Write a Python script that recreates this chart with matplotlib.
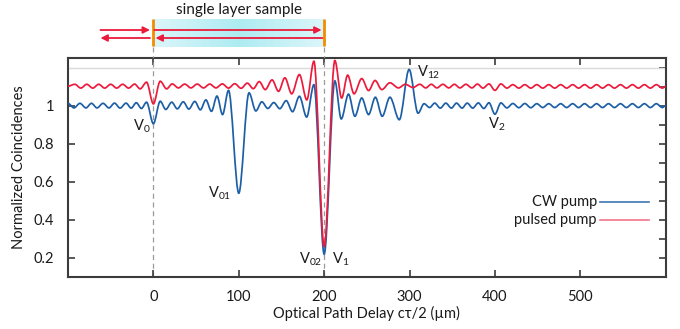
import numpy as np
import matplotlib.pyplot as plt
from matplotlib.path import Path
from matplotlib.patches import PathPatch

plt.rcParams['font.family'] = ['Lato', 'DejaVu Sans']
plt.rcParams['mathtext.fontset'] = 'custom'
plt.rcParams['mathtext.rm'] = 'Lato'
plt.rcParams['mathtext.it'] = 'Lato'

# extrema of the CW pump trace (delay in um, normalized coincidences)
cw_x = [-100, -93, -86, -79, -72.5, -66, -59, -52, -45.5, -39, -32, -26, -20, -14, -8, 0,
        8, 14.5, 21.5, 28, 35, 41.5, 48.5, 55, 61.5, 68, 74.5, 81, 88, 100,
        112, 120, 127, 134, 141, 148, 155.5, 163, 171, 179.5, 188, 200,
        212.5, 220, 228.5, 236, 244, 252, 260, 268, 277, 288, 299.5,
        310, 317, 323.5, 329.5, 336, 342.5, 349, 355, 361.5, 367.5, 374, 380.5, 387, 393, 400,
        407, 414, 421, 428, 435, 442, 449, 456, 463, 470, 477, 484, 491, 498,
        505, 512, 519, 526, 533, 540, 547, 554, 561, 568, 575, 582, 589, 596, 600]
cw_y = [1.012, 0.988, 1.012, 0.988, 1.012, 0.988, 1.012, 0.988, 1.013, 0.987, 1.013, 0.987, 1.015, 0.985, 1.018, 0.905,
        1.023, 0.980, 1.018, 0.983, 1.020, 0.982, 1.022, 0.978, 1.030, 0.970, 1.050, 0.953, 1.080, 0.540,
        1.067, 0.972, 1.020, 0.985, 1.016, 0.984, 1.026, 0.968, 1.049, 0.940, 1.110, 0.220,
        1.130, 0.930, 1.060, 0.944, 1.040, 0.953, 1.044, 0.944, 1.044, 0.926, 1.190,
        0.960, 1.010, 0.990, 1.013, 0.987, 1.013, 0.987, 1.013, 0.987, 1.013, 0.987, 1.014, 0.985, 1.015, 0.955,
        1.014, 0.988, 1.011, 0.989, 1.011, 0.989, 1.010, 0.990, 1.010, 0.990, 1.010, 0.990, 1.010, 0.990,
        1.010, 0.990, 1.010, 0.990, 1.010, 0.990, 1.010, 0.990, 1.010, 0.990, 1.010, 0.990, 1.010, 0.990, 1.000]

# extrema of the pulsed pump trace
pulsed_x = [-100, -92, -85, -78, -71, -64, -57, -50, -43, -36, -29, -22, -15.5, -8, 0,
            8, 15.5, 22, 29.3, 36.7, 44, 51.3, 58.7, 66, 73.3, 80.7, 88, 95.3, 102.7,
            110, 117, 124, 131, 139, 146.6, 154, 162, 171, 179.7, 188, 200,
            212.5, 220.5, 227.5, 235, 244, 252, 259.6, 267.5, 277, 287, 295, 304,
            312, 319, 325.5, 332, 339, 346, 352.5, 359, 366, 373, 379.5, 386, 393, 400,
            407, 414, 421, 428, 435, 442, 449, 456, 463, 470, 477, 484, 491, 498,
            505, 512, 519, 526, 533, 540, 547, 554, 561, 568, 575, 582, 589, 596, 600]
pulsed_y = [1.102, 1.112, 1.092, 1.112, 1.092, 1.112, 1.092, 1.112, 1.092, 1.112, 1.092, 1.113, 1.088, 1.123, 1.009,
            1.128, 1.088, 1.114, 1.093, 1.113, 1.093, 1.113, 1.093, 1.113, 1.093, 1.114, 1.092, 1.115, 1.091,
            1.118, 1.089, 1.126, 1.084, 1.135, 1.075, 1.146, 1.062, 1.163, 1.030, 1.233, 0.260,
            1.237, 1.040, 1.160, 1.062, 1.142, 1.079, 1.132, 1.084, 1.120, 1.093, 1.112, 1.095,
            1.112, 1.093, 1.112, 1.093, 1.112, 1.093, 1.112, 1.093, 1.112, 1.093, 1.113, 1.092, 1.114, 1.080,
            1.114, 1.092, 1.110, 1.092, 1.110, 1.092, 1.110, 1.092, 1.110, 1.092, 1.110, 1.092, 1.110, 1.092,
            1.110, 1.092, 1.110, 1.092, 1.110, 1.092, 1.110, 1.092, 1.110, 1.092, 1.110, 1.092, 1.110, 1.092, 1.101]

series_labels = ['CW pump', 'pulsed pump']

# dip labels: (text, x, y, alignment)
dip_labels = [(r'V$_{0}$', -3.5, 0.89, 'right'),
              (r'V$_{01}$', 91, 0.542, 'right'),
              (r'V$_{02}$', 197.5, 0.195, 'right'),
              (r'V$_{1}$', 209, 0.195, 'left'),
              (r'V$_{12}$', 309, 1.174, 'left'),
              (r'V$_{2}$', 402, 0.90, 'center')]

sample_edges = [0, 200]
x_ticks = [0, 100, 200, 300, 400, 500]
y_ticks = [0.2, 0.4, 0.6, 0.8, 1.0]
y_ticklabels = ['0.2', '0.4', '0.6', '0.8', '1']
y_right_ticks = [0.2, 0.3, 0.4, 0.5, 0.6, 0.7, 0.8, 0.9, 1.0, 1.1, 1.2]

BLUE = '#1d5fa6'
RED = '#ec1b3c'
AXC = '#3c3c3c'
TXT = '#1a1a1a'


def smooth_path(xs, ys):
    # cubic segments with flat tangents at every extremum
    verts = [(xs[0], ys[0])]
    codes = [Path.MOVETO]
    for i in range(1, len(xs)):
        dx = xs[i] - xs[i - 1]
        verts += [(xs[i - 1] + dx / 3, ys[i - 1]), (xs[i] - dx / 3, ys[i]), (xs[i], ys[i])]
        codes += [Path.CURVE4] * 3
    return Path(verts, codes)


fig = plt.figure(figsize=(6.8, 3.29), dpi=100)
ax = fig.add_axes([0.1, 0.158, 0.879, 0.6657])
ax.set_xlim(-100, 600)
ax.set_ylim(0.1, 1.25)

ax.axhline(1.2, color='#dadada', lw=1.0, zorder=1)
for xe in sample_edges:
    ax.axvline(xe, color='#9a9a9a', lw=0.9, ls=(0, (4, 3)), zorder=1)

ax.add_patch(PathPatch(smooth_path(cw_x, cw_y), fill=False, edgecolor=BLUE, lw=1.25, zorder=3))
ax.add_patch(PathPatch(smooth_path(pulsed_x, pulsed_y), fill=False, edgecolor=RED, lw=1.25, zorder=4))

for txt, x, y, ha in dip_labels:
    ax.text(x, y, txt, ha=ha, va='center', fontsize=10.5, color=TXT, zorder=5)

# legend drawn by hand: text right aligned, sample line after it
for i, (lab, col) in enumerate(zip(series_labels, [BLUE, RED])):
    yy = 0.344 - i * 0.084
    ax.text(0.885, yy, lab, transform=ax.transAxes, ha='right', va='center', fontsize=10.5, color=TXT)
    ax.plot([0.890, 0.972], [yy, yy], transform=ax.transAxes, color=col, lw=1.2, alpha=0.85 if i == 0 else 0.6)

for s in ax.spines.values():
    s.set_color(AXC)
    s.set_linewidth(1.5)

ax.set_xticks(x_ticks)
ax.set_xticklabels([str(t) for t in x_ticks])
ax.set_yticks(y_ticks)
ax.set_yticklabels(y_ticklabels)
ax.tick_params(axis='x', direction='in', length=5, width=1.2, color=AXC, pad=9, labelsize=10.5, labelcolor=TXT)
ax.tick_params(axis='y', direction='in', length=5, width=1.2, color=AXC, pad=10, labelsize=10.5, labelcolor=TXT)

sec_y = ax.secondary_yaxis('right')
sec_y.set_yticks(y_right_ticks)
sec_y.tick_params(direction='in', length=5, width=1.2, color=AXC, labelright=False)
sec_y.spines['right'].set_visible(False)
sec_x = ax.secondary_xaxis('top')
sec_x.set_xticks(x_ticks)
sec_x.tick_params(direction='in', length=5, width=1.2, color=AXC, labeltop=False)
sec_x.spines['top'].set_visible(False)

ax.set_xlabel('Optical Path Delay cτ/2 (µm)', fontsize=10.5, color=TXT)
ax.xaxis.set_label_coords(0.5, -0.13)
ax.set_ylabel('Normalized Coincidences', fontsize=10.5, color=TXT)
ax.yaxis.set_label_coords(-0.07, 0.5)

# sample sketch above the plot
top = fig.add_axes([0.1, 0.8237, 0.879, 0.1763])
top.set_xlim(-100, 600)
top.set_ylim(58, 0)
top.axis('off')
g = np.linspace(-1, 1, 200)
w = 1 - np.abs(g)
edge = np.array([0.86, 0.965, 0.98])
mid = np.array([0.68, 0.925, 0.95])
grad = edge[None, :] * (1 - w[:, None]) + mid[None, :] * w[:, None]
top.imshow(grad[None, :, :], extent=[sample_edges[0], sample_edges[1], 47, 20], aspect='auto', zorder=1)
for xe in sample_edges:
    top.plot([xe, xe], [19, 46], color='#f28c00', lw=2, zorder=3, solid_capstyle='butt')
    top.plot([xe, xe], [47, 58], color='#9a9a9a', lw=0.9, ls=(0, (4, 3)), zorder=2)
top.text(100, 10, 'single layer sample', ha='center', va='center', fontsize=11, color=TXT)
arr = dict(arrowstyle='-|>', color=RED, lw=1.3, mutation_scale=10, shrinkA=0, shrinkB=0)
top.annotate('', xy=(-4, 30), xytext=(-62, 30), arrowprops=arr)
top.annotate('', xy=(-62, 38), xytext=(-4, 38), arrowprops=arr)
top.annotate('', xy=(197, 30), xytext=(1, 30), arrowprops=arr)
top.annotate('', xy=(2.5, 38), xytext=(198, 38), arrowprops=arr)

fig.savefig('out.png', dpi=100)
